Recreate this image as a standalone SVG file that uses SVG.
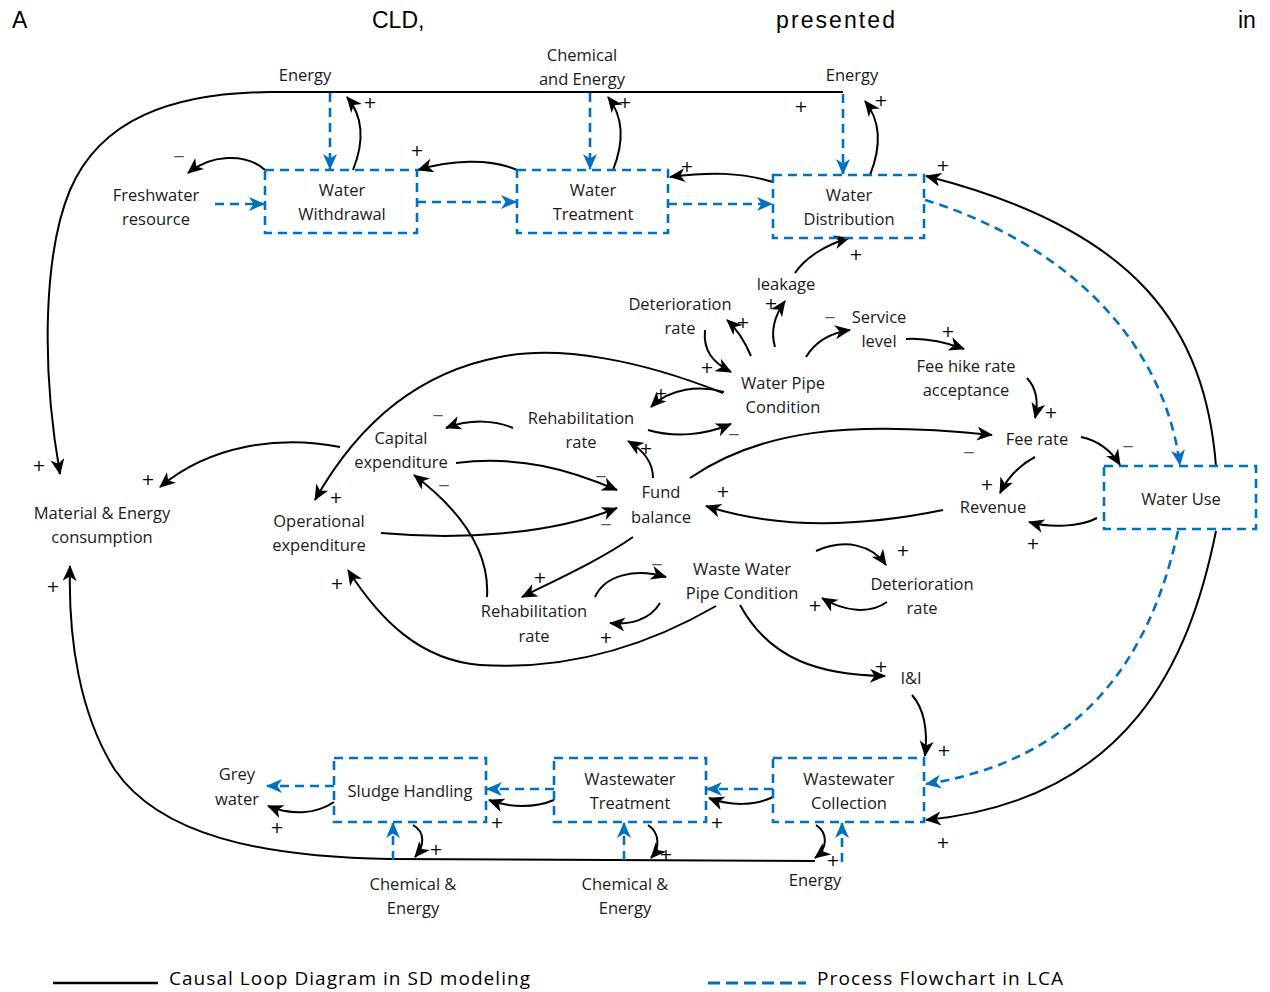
<svg xmlns="http://www.w3.org/2000/svg" width="1270" height="992" viewBox="0 0 1270 992">
<defs>
<marker id="ah" markerUnits="userSpaceOnUse" markerWidth="18" markerHeight="16" refX="15" refY="7" orient="auto">
<path d="M0,0 L16,7 L0,14 L4.5,7 z" fill="#000"/>
</marker>
<marker id="ahb" markerUnits="userSpaceOnUse" markerWidth="18" markerHeight="16" refX="15" refY="7" orient="auto">
<path d="M0,0 L16,7 L0,14 L4.5,7 z" fill="#0070C0"/>
</marker>
<style>
.t{font-family:"Open Sans","Noto Sans",sans-serif;font-size:16.5px;fill:#1a1a1a;text-anchor:middle}
.s{font-family:"DejaVu Sans","Liberation Sans",sans-serif;font-size:16px;fill:#000;text-anchor:middle}
.m{font-family:"Liberation Sans",Arial,sans-serif;font-size:17px;fill:#555;text-anchor:middle}
.h{font-family:"Liberation Sans",Arial,sans-serif;font-size:23px;fill:#000}
.lg{font-family:"Open Sans","Noto Sans",sans-serif;font-size:19px;fill:#000}
.box{fill:none;stroke:#0070C0;stroke-width:2.6;stroke-dasharray:9 6}
.bl{fill:none;stroke:#000;stroke-width:2}
.ba{fill:none;stroke:#000;stroke-width:2;marker-end:url(#ah)}
.da{fill:none;stroke:#0070C0;stroke-width:2.6;stroke-dasharray:9 6;marker-end:url(#ahb)}
</style>
</defs>
<rect width="1270" height="992" fill="#fff"/>

<g id="header">
<text class="h" x="12" y="28">A</text>
<text class="h" x="372" y="28">CLD,</text>
<text class="h" x="776" y="28" textLength="119">presented</text>
<text class="h" x="1238" y="28">in</text>
</g>

<g id="connectors">
<path class="ba" d="M843,92 L270,92 C170,93 100,120 70,190 C45,250 40,360 60,474"/>
<path class="da" d="M330,93 L330,169"/>
<path class="da" d="M590,93 L590,169"/>
<path class="da" d="M843,94 L843,174"/>
<path class="ba" d="M353,170 C365,140 362,115 347,97"/>
<path class="ba" d="M613,170 C625,140 622,115 608,97"/>
<path class="ba" d="M870,175 C882,145 880,120 865,101"/>
<path class="da" d="M215,204 L264,204"/>
<path class="ba" d="M265,170 C245,152 210,155 188,173"/>
<path class="ba" d="M517,170 C490,158 450,160 418,170"/>
<path class="ba" d="M773,182 C740,172 710,172 670,177"/>
<path class="da" d="M417,202 L516,202"/>
<path class="da" d="M668,204 L772,204"/>
<path class="da" d="M925,200 C1040,235 1160,320 1180,465"/>
<path class="ba" d="M1216,466 C1205,330 1140,230 926,176"/>
<path class="da" d="M1178,531 C1150,660 1080,760 926,784"/>
<path class="ba" d="M1216,531 C1190,660 1130,800 926,820"/>
<path class="ba" d="M912,695 C925,710 928,730 925,756"/>
<path class="ba" d="M795,273 C805,258 825,245 849,238"/>
<path class="ba" d="M775,347 C770,330 775,315 785,301"/>
<path class="ba" d="M751,356 C745,342 738,330 727,320"/>
<path class="ba" d="M705,330 C703,350 712,362 731,372"/>
<path class="ba" d="M806,357 C815,342 830,333 850,330"/>
<path class="ba" d="M906,339 C925,338 945,342 964,349"/>
<path class="ba" d="M1027,378 C1038,390 1038,405 1035,418"/>
<path class="ba" d="M724,392 C700,385 670,388 651,407"/>
<path class="ba" d="M648,430 C675,438 705,435 731,424"/>
<path class="ba" d="M723,393 C640,360 560,345 500,357 C420,372 360,420 315,500"/>
<path class="ba" d="M513,428 C495,420 470,419 446,428"/>
<path class="ba" d="M340,447 C280,435 210,445 160,487"/>
<path class="ba" d="M456,463 C520,455 570,470 617,490"/>
<path class="ba" d="M653,478 C653,462 643,450 628,441"/>
<path class="ba" d="M690,478 C760,430 850,420 992,435"/>
<path class="ba" d="M1081,437 C1100,441 1112,452 1120,465"/>
<path class="ba" d="M1035,457 C1020,465 1008,477 1000,493"/>
<path class="ba" d="M943,510 C860,527 780,530 706,506"/>
<path class="ba" d="M1097,518 C1080,527 1050,528 1029,522"/>
<path class="ba" d="M381,533 C460,540 550,535 617,508"/>
<path class="ba" d="M633,537 C600,560 560,578 522,597"/>
<path class="ba" d="M487,597 C490,550 460,510 414,475"/>
<path class="ba" d="M595,597 C605,575 635,568 666,577"/>
<path class="ba" d="M660,603 C650,620 630,625 610,623"/>
<path class="ba" d="M816,551 C845,538 872,545 886,565"/>
<path class="ba" d="M887,602 C870,614 845,612 822,598"/>
<path class="ba" d="M716,606 C640,650 560,670 480,665 C420,660 380,620 348,570"/>
<path class="ba" d="M740,605 C770,660 820,675 885,676"/>
<path class="ba" d="M815,861 L390,859 C260,857 160,835 115,770 C80,715 68,640 70,566"/>
<path class="da" d="M393,860 L393,823"/>
<path class="da" d="M624,860 L624,823"/>
<path class="da" d="M842,862 L842,823"/>
<path class="ba" d="M413,825 C425,832 425,845 415,857"/>
<path class="ba" d="M648,825 C660,833 660,848 651,858"/>
<path class="ba" d="M816,825 C828,833 828,848 815,858"/>
<path class="da" d="M773,789 L707,789"/>
<path class="da" d="M554,789 L487,789"/>
<path class="da" d="M334,786 L267,786"/>
<path class="ba" d="M773,797 C755,806 730,806 709,798"/>
<path class="ba" d="M554,800 C535,808 510,808 489,800"/>
<path class="ba" d="M334,802 C315,815 290,815 268,806"/>
</g>

<g id="polarity">
<text class="s" x="370" y="108">+</text>
<text class="s" x="417" y="156">+</text>
<text class="s" x="625" y="108">+</text>
<text class="s" x="687" y="172">+</text>
<text class="s" x="801" y="112">+</text>
<text class="s" x="881" y="106">+</text>
<text class="s" x="943" y="171">+</text>
<text class="s" x="856" y="260">+</text>
<text class="s" x="771" y="309">+</text>
<text class="s" x="743" y="328">+</text>
<text class="s" x="707" y="373">+</text>
<text class="s" x="948" y="337">+</text>
<text class="s" x="1051" y="418">+</text>
<text class="s" x="661" y="399">+</text>
<text class="s" x="646" y="454">+</text>
<text class="s" x="987" y="490">+</text>
<text class="s" x="723" y="497">+</text>
<text class="s" x="1033" y="549">+</text>
<text class="s" x="148" y="485">+</text>
<text class="s" x="39" y="471">+</text>
<text class="s" x="336" y="503">+</text>
<text class="s" x="540" y="583">+</text>
<text class="s" x="606" y="643">+</text>
<text class="s" x="903" y="556">+</text>
<text class="s" x="815" y="611">+</text>
<text class="s" x="337" y="589">+</text>
<text class="s" x="881" y="672">+</text>
<text class="s" x="944" y="756">+</text>
<text class="s" x="943" y="848">+</text>
<text class="s" x="717" y="828">+</text>
<text class="s" x="497" y="828">+</text>
<text class="s" x="277" y="833">+</text>
<text class="s" x="436" y="855">+</text>
<text class="s" x="666" y="860">+</text>
<text class="s" x="833" y="866">+</text>
<text class="s" x="53" y="592">+</text>
<text class="m" x="179" y="161">–</text>
<text class="m" x="830" y="322">–</text>
<text class="m" x="734" y="439">–</text>
<text class="m" x="438" y="420">–</text>
<text class="m" x="601" y="481">–</text>
<text class="m" x="969" y="457">–</text>
<text class="m" x="1128" y="451">–</text>
<text class="m" x="606" y="529">–</text>
<text class="m" x="444" y="490">–</text>
<text class="m" x="657" y="569">–</text>
<text class="s" x="389" y="863" style="font-size:12px">-</text>
</g>

<g id="labels-energy">
<text class="t" x="305" y="81">Energy</text>
<text class="t" x="582" y="61">Chemical</text>
<text class="t" x="582" y="85">and Energy</text>
<text class="t" x="852" y="81">Energy</text>
<text class="t" x="413" y="890">Chemical &amp;</text>
<text class="t" x="413" y="914">Energy</text>
<text class="t" x="625" y="890">Chemical &amp;</text>
<text class="t" x="625" y="914">Energy</text>
<text class="t" x="815" y="886">Energy</text>
</g>

<g id="water-withdrawal"><rect class="box" x="265" y="170" width="152" height="63"/><text class="t" x="342" y="196">Water</text><text class="t" x="342" y="220">Withdrawal</text></g>
<g id="water-treatment"><rect class="box" x="517" y="170" width="151" height="63"/><text class="t" x="593" y="196">Water</text><text class="t" x="593" y="220">Treatment</text></g>
<g id="water-distribution"><rect class="box" x="773" y="175" width="151" height="63"/><text class="t" x="849" y="201">Water</text><text class="t" x="849" y="225">Distribution</text></g>
<g id="water-use"><rect class="box" x="1104" y="466" width="152" height="63"/><text class="t" x="1181" y="505">Water Use</text></g>
<g id="wastewater-collection"><rect class="box" x="773" y="758" width="151" height="64"/><text class="t" x="849" y="785">Wastewater</text><text class="t" x="849" y="809">Collection</text></g>
<g id="wastewater-treatment"><rect class="box" x="554" y="758" width="152" height="64"/><text class="t" x="630" y="785">Wastewater</text><text class="t" x="630" y="809">Treatment</text></g>
<g id="sludge-handling"><rect class="box" x="334" y="758" width="152" height="64"/><text class="t" x="410" y="797">Sludge Handling</text></g>

<g id="freshwater"><text class="t" x="156" y="201">Freshwater</text><text class="t" x="156" y="225">resource</text></g>
<g id="leakage"><text class="t" x="786" y="290">leakage</text></g>
<g id="deterioration-water"><text class="t" x="680" y="310">Deterioration</text><text class="t" x="680" y="334">rate</text></g>
<g id="service-level"><text class="t" x="879" y="323">Service</text><text class="t" x="879" y="347">level</text></g>
<g id="fee-hike"><text class="t" x="966" y="372">Fee hike rate</text><text class="t" x="966" y="396">acceptance</text></g>
<g id="water-pipe-condition"><text class="t" x="783" y="389">Water Pipe</text><text class="t" x="783" y="413">Condition</text></g>
<g id="rehab-water"><text class="t" x="581" y="424">Rehabilitation</text><text class="t" x="581" y="448">rate</text></g>
<g id="capital-expenditure"><text class="t" x="401" y="444">Capital</text><text class="t" x="401" y="468">expenditure</text></g>
<g id="fee-rate"><text class="t" x="1037" y="445">Fee rate</text></g>
<g id="fund-balance"><text class="t" x="661" y="498">Fund</text><text class="t" x="661" y="523">balance</text></g>
<g id="revenue"><text class="t" x="993" y="513">Revenue</text></g>
<g id="material-energy"><text class="t" x="102" y="519">Material &amp; Energy</text><text class="t" x="102" y="543">consumption</text></g>
<g id="operational-expenditure"><text class="t" x="319" y="527">Operational</text><text class="t" x="319" y="551">expenditure</text></g>
<g id="wastewater-pipe-condition"><text class="t" x="742" y="575">Waste Water</text><text class="t" x="742" y="599">Pipe Condition</text></g>
<g id="deterioration-wastewater"><text class="t" x="922" y="590">Deterioration</text><text class="t" x="922" y="614">rate</text></g>
<g id="rehab-wastewater"><text class="t" x="534" y="617">Rehabilitation</text><text class="t" x="534" y="642">rate</text></g>
<g id="ii"><text class="t" x="911" y="684">I&amp;I</text></g>
<g id="grey-water"><text class="t" x="237" y="780">Grey</text><text class="t" x="237" y="805">water</text></g>

<g id="legend">
<line class="bl" x1="53" y1="983" x2="158" y2="983" style="stroke-width:2.5"/>
<text class="lg" x="169" y="985" textLength="361">Causal Loop Diagram in SD modeling</text>
<line x1="708" y1="983" x2="806" y2="983" style="stroke:#0070C0;stroke-width:3;stroke-dasharray:12 6"/>
<text class="lg" x="817" y="985" textLength="246">Process Flowchart in LCA</text>
</g>
</svg>
